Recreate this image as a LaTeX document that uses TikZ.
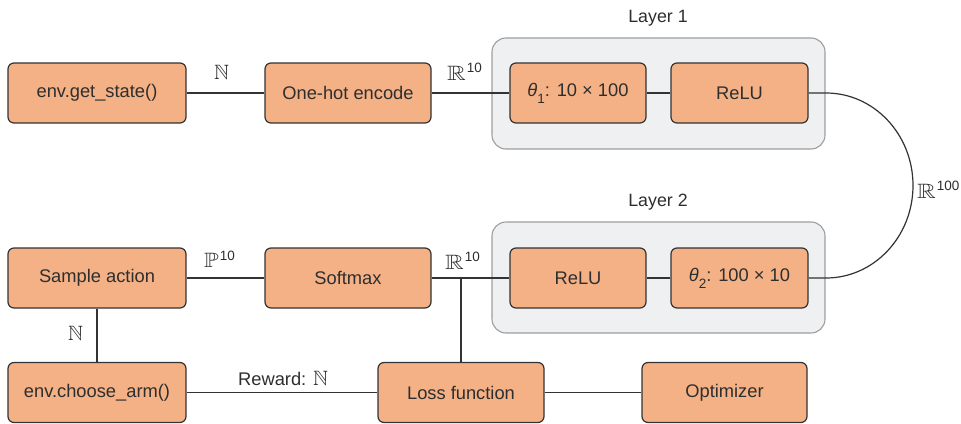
\documentclass[tikz,border=0pt]{standalone}
\usepackage{amssymb}
\usepackage{graphicx}
\usepackage{fontspec}
\setmainfont{Liberation Sans}
\definecolor{boxfill}{HTML}{F4B186}
\definecolor{boxline}{HTML}{333333}
\definecolor{layfill}{HTML}{EEF0F2}
\definecolor{layline}{HTML}{9E9E9E}
\definecolor{txt}{HTML}{2E2E2E}
\newcommand\mysup[1]{\raisebox{7.5pt}{\fontsize{13.5}{15}\selectfont #1}}
\newcommand\mysub[1]{\raisebox{-7pt}{\fontsize{13.5}{15}\selectfont #1}}
\newcommand\bbN{{\fontsize{20.74}{24}\selectfont$\mathbb{N}$}}
\newcommand\bbR{\scalebox{1.25}[1]{\fontsize{20.74}{24}\selectfont$\mathbb{R}$}\kern1pt}
\newcommand\bbP{\scalebox{1.15}[1]{\fontsize{20.74}{24}\selectfont$\mathbb{P}$}\kern1pt}
\tikzset{
  box/.style={draw=boxline, fill=boxfill, line width=1.2pt, rounded corners=6pt,
    minimum height=60pt, inner sep=0pt, text=txt, font=\fontsize{18.3}{22}\selectfont},
  layerbox/.style={draw=layline, fill=layfill, line width=1.1pt, rounded corners=14pt, inner sep=0pt},
  conn/.style={draw=boxline, line width=1.2pt},
  lbl/.style={anchor=base west, inner sep=0pt, text=txt, font=\fontsize{18.3}{22}\selectfont},
  ttl/.style={anchor=base, inner sep=0pt, text=txt, font=\fontsize{17.8}{22}\selectfont}
}
\begin{document}
\begin{tikzpicture}[x=1pt,y=-1pt]
\useasboundingbox (0,0) rectangle (961,423);
% layer containers
\node[layerbox, minimum width=333pt, minimum height=111pt] (L1) at (658.5,93.5) {};
\node[layerbox, minimum width=333pt, minimum height=111pt] (L2) at (658.5,277.5) {};
\node[ttl] (L1t) at (658,23) {Layer 1};
\node[ttl] (L2t) at (658,206) {Layer 2};
% row 1
\node[box, minimum width=178pt] (gs) at (97,93) {env.get\_state()};
\node[box, minimum width=166pt] (oh) at (348,93) {One-hot encode};
\node[box, minimum width=136pt] (t1) at (578,93) {\textit{θ}\mysub{1}: 10 × 100};
\node[box, minimum width=137pt] (r1) at (739.5,93) {ReLU};
% row 2
\node[box, minimum width=178pt] (sa) at (97,278) {Sample action};
\node[box, minimum width=166pt] (sm) at (348,278) {Softmax};
\node[box, minimum width=136pt] (r2) at (578,278) {ReLU};
\node[box, minimum width=137pt] (t2) at (739.5,278) {\textit{θ}\mysub{2}: 100 × 10};
% row 3
\node[box, minimum width=178pt] (ca) at (97,392.5) {env.choose\_arm()};
\node[box, minimum width=166pt] (lf) at (461,392.5) {Loss function};
\node[box, minimum width=165pt] (op) at (724.5,392.5) {Optimizer};
% connectors
\draw[conn] (gs) -- (oh);
\draw[conn] (oh) -- (t1);
\draw[conn] (t1) -- (r1);
\coordinate (ca1) at (826,93);
\coordinate (ca2) at (913,185.5);
\coordinate (ca3) at (826,278);
\draw[conn] (r1.east) -- (ca1) .. controls (874,93) and (913,134.4) .. (ca2)
  .. controls (913,236.6) and (874,278) .. (ca3) -- (t2.east);
\draw[conn] (t2) -- (r2);
\draw[conn] (r2) -- (sm);
\draw[conn] (sm) -- (sa);
\draw[conn] (sa) -- (ca);
\draw[conn] (ca) -- (lf);
\draw[conn] (lf) -- (op);
\draw[conn] (lf.north) -- (lf.north |- sm.east);
% labels
\node[lbl] (n1) at (214,79.5) {\bbN};
\node[lbl] (rr1) at (447,80) {\bbR\mysup{10}};
\node[lbl] (pp) at (204,267.5) {\bbP\mysup{10}};
\node[lbl] (rr2) at (445,269) {\bbR\mysup{10}};
\node[lbl] (n2) at (68,340) {\bbN};
\node[lbl] (rw) at (238,385) {Reward: \bbN};
\node[lbl] (r100) at (917,198) {\bbR\mysup{100}};
\end{tikzpicture}
\end{document}
